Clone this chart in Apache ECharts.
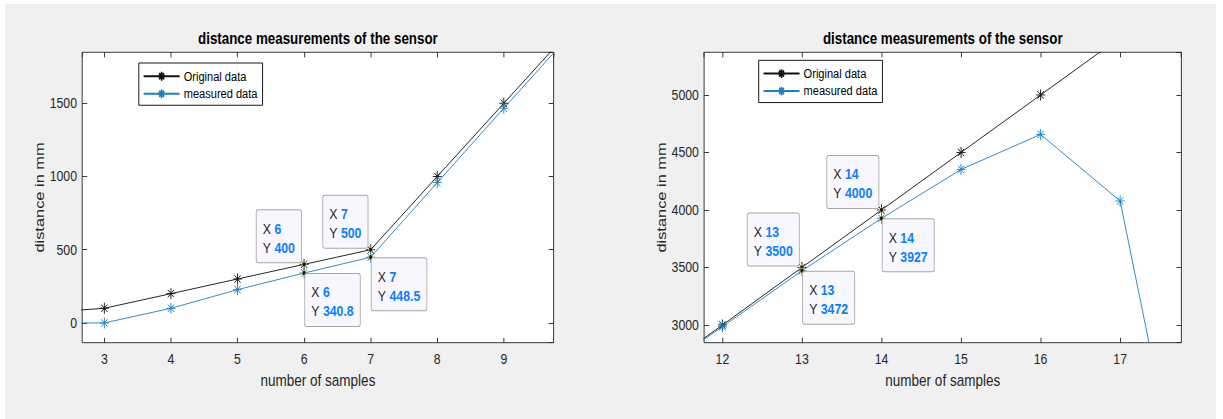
<!DOCTYPE html>
<html><head><meta charset="utf-8">
<script src="https://cdn.jsdelivr.net/npm/echarts@6/dist/echarts.min.js"></script>
<style>
html,body{margin:0;padding:0;background:#fff;overflow:hidden;}
#bg{position:absolute;left:5px;top:4px;width:1211px;height:415px;background:#f0f0f0;}
#chart{position:absolute;left:0;top:0;height:419px;transform-origin:0 0;}
</style></head><body>
<div id="bg"></div><div id="chart"></div>
<script>
// ---- data ----
const leftSamples   = [2, 3, 4, 5, 6, 7, 8, 9, 10];
const leftOriginal  = [67, 100, 200, 300, 400, 500, 1000, 1500, 2000];
const leftMeasured  = [0, 0, 100, 227, 340.8, 448.5, 958, 1466, 1970];
const rightSamples  = [11, 12, 13, 14, 15, 16, 17, 18];
const rightOriginal = [2500, 3000, 3500, 4000, 4500, 5000, 5500, 6000];
const rightMeasured = [2505, 2985, 3472, 3927, 4352, 4657, 4078, 680];
const leftTipSamples  = [6, 7];
const rightTipSamples = [13, 14];
const seriesNames = ['Original data', 'measured data'];
const chartTitle = 'distance measurements of the sensor';
const xName = 'number of samples';
const yName = 'distance in mm';

// ---- layout (the reference picture is horizontally compressed) ----
const S = 0.82;
const W = 1223 / S;
const el = document.getElementById('chart');
el.style.width = W + 'px';
el.style.transform = 'scaleX(' + S + ')';
const X = v => v / S;
const FONT = "'Liberation Sans', Arial, sans-serif";
const AX = '#262626';
const BLUE = '#1a80c6';
const TIPBLUE = '#0a80ff';
const ASTER = 'path://M5,0L5,10M0,5L10,5M1.6,1.6L8.4,8.4M1.6,8.4L8.4,1.6';

const panels = [
  {left: 82.2, width: 471.4, xmin: 2.667, xmax: 9.748, xsplit: 7, ymin: -135, ymax: 1848, ysplit: 4,
   xs: leftSamples, orig: leftOriginal, meas: leftMeasured, tips: leftTipSamples, legendLeft: 138.8, legendTop: 63},
  {left: 704.1, width: 477.3, xmin: 11.77, xmax: 17.77, xsplit: 6, ymin: 2846, ymax: 5371, ysplit: 5,
   xs: rightSamples, orig: rightOriginal, meas: rightMeasured, tips: rightTipSamples, legendLeft: 758.7, legendTop: 60.3}
];
const gridTop = 52.3, gridH = 290.4;

// text measuring for datatip box widths
const mctx = document.createElement('canvas').getContext('2d');
function tw(str, bold) {
  mctx.font = (bold ? 'bold ' : '') + '15px ' + FONT;
  return mctx.measureText(str).width;
}
const PADL = 7.5, PADR = 7.5;
function tipLabel(upperLeft, x, y) {
  const boxW = Math.max(tw('X ') + tw(String(x), true), tw('Y ') + tw(String(y), true)) + PADL + PADR + 2;
  return {
    show: true,
    position: upperLeft ? [2.5 - 1.2 - boxW, 1] : [4.3, 4],
    align: 'left',
    verticalAlign: upperLeft ? 'bottom' : 'top',
    backgroundColor: '#f7f7fd',
    borderColor: '#a6a6a6',
    borderWidth: 1,
    borderRadius: 2,
    padding: [9, PADR, 5, PADL],
    fontFamily: FONT, fontSize: 15, lineHeight: 19, color: AX,
    formatter: p => '{k|X }{v|' + p.data.coord[0] + '}\n{k|Y }{v|' + p.data.coord[1] + '}',
    rich: {
      k: {color: AX, fontFamily: FONT, fontSize: 15, lineHeight: 19, align: 'left'},
      v: {color: TIPBLUE, fontFamily: FONT, fontSize: 15, fontWeight: 'bold', lineHeight: 19, align: 'left'}
    }
  };
}
function tipPoints(p, vals, upperLeft) {
  return {
    symbol: 'circle', symbolSize: 5, silent: true,
    itemStyle: {color: '#141414', borderColor: '#cfc873', borderWidth: 1},
    data: p.tips.map(x => {
      const y = vals[p.xs.indexOf(x)];
      return {coord: [x, y], label: tipLabel(upperLeft, x, y)};
    })
  };
}

const grid = [], xAxis = [], yAxis = [], series = [], title = [], legend = [];
panels.forEach((p, i) => {
  grid.push({left: X(p.left), top: gridTop, width: X(p.width), height: gridH, show: true,
    backgroundColor: '#ffffff', borderColor: AX, borderWidth: 1});
  const xBase = {type: 'value', gridIndex: i, min: p.xmin, max: p.xmax, splitNumber: p.xsplit,
    splitLine: {show: false}, axisLine: {show: false, onZero: false},
    axisTick: {show: true, inside: true, length: 5, lineStyle: {color: AX}}};
  xAxis.push(Object.assign({}, xBase, {position: 'bottom',
    name: xName, nameLocation: 'middle', nameGap: 29,
    nameTextStyle: {fontFamily: FONT, fontSize: 16.5, color: AX},
    axisLabel: {show: true, margin: 9, fontFamily: FONT, fontSize: 15, color: AX,
      showMinLabel: false, showMaxLabel: false, formatter: v => String(v)}}));
  xAxis.push(Object.assign({}, xBase, {position: 'top', axisLabel: {show: false}}));
  const yBase = {type: 'value', gridIndex: i, min: p.ymin, max: p.ymax, splitNumber: p.ysplit,
    splitLine: {show: false}, axisLine: {show: false, onZero: false},
    axisTick: {show: true, inside: true, length: 6, lineStyle: {color: AX}}};
  yAxis.push(Object.assign({}, yBase, {position: 'left',
    name: yName, nameLocation: 'middle', nameGap: 44, nameRotate: 90,
    nameTextStyle: {fontFamily: FONT, fontSize: 16.4, color: AX},
    axisLabel: {show: true, margin: 6.3, fontFamily: FONT, fontSize: 15, color: AX,
      showMinLabel: false, showMaxLabel: false, formatter: v => String(v)}}));
  yAxis.push(Object.assign({}, yBase, {position: 'right', axisLabel: {show: false}}));

  series.push({type: 'line', name: seriesNames[0], xAxisIndex: 2 * i, yAxisIndex: 2 * i,
    data: p.xs.map((x, k) => [x, p.orig[k]]),
    symbol: ASTER, symbolSize: 11, showAllSymbol: true,
    lineStyle: {color: '#111111', width: 1},
    itemStyle: {color: '#111111', borderColor: '#111111', borderWidth: 1},
    emphasis: {disabled: true}, silent: true,
    markPoint: tipPoints(p, p.orig, true)});
  series.push({type: 'line', name: seriesNames[1], xAxisIndex: 2 * i, yAxisIndex: 2 * i,
    data: p.xs.map((x, k) => [x, p.meas[k]]),
    symbol: ASTER, symbolSize: 11, showAllSymbol: true,
    lineStyle: {color: BLUE, width: 1},
    itemStyle: {color: BLUE, borderColor: BLUE, borderWidth: 1},
    emphasis: {disabled: true}, silent: true,
    markPoint: tipPoints(p, p.meas, false)});

  title.push({text: chartTitle, left: X(p.left + p.width / 2), top: 31, textAlign: 'center', padding: 0,
    textStyle: {fontFamily: FONT, fontSize: 16.3, fontWeight: 'bold', color: '#000000'}});
  legend.push({data: seriesNames, orient: 'vertical', left: X(p.legendLeft), top: p.legendTop,
    itemWidth: X(36), itemHeight: 11, itemGap: 3.5,
    padding: [6.25, X(5), 4.5, X(4)],
    backgroundColor: '#ffffff', borderColor: '#000000', borderWidth: 1, borderRadius: 0,
    selectedMode: false,
    textStyle: {fontFamily: FONT, fontSize: 13.5, color: '#000000'}});
});

const chart = echarts.init(el, null, {renderer: 'svg'});
chart.setOption({
  animation: false,
  backgroundColor: 'transparent',
  title, legend, grid, xAxis, yAxis, series,
  tooltip: {show: false}
});
</script>
</body></html>
